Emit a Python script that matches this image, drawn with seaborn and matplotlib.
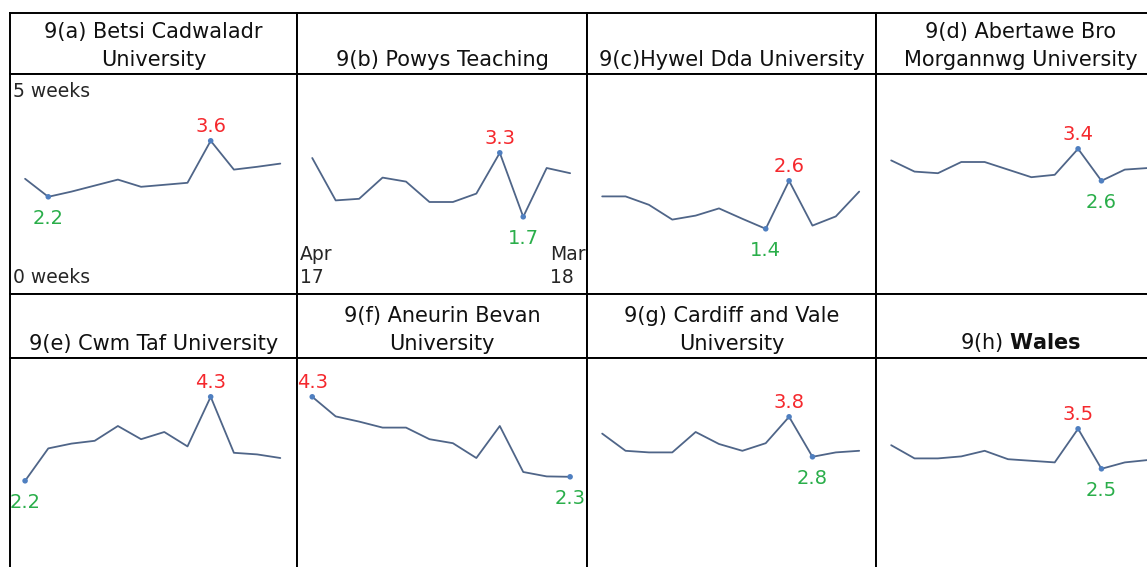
import numpy as np
import pandas as pd
import matplotlib
matplotlib.use('Agg')
import matplotlib.pyplot as plt
import seaborn as sns

# months Apr 17 .. Mar 18
months = ['Apr 17', 'May 17', 'Jun 17', 'Jul 17', 'Aug 17', 'Sep 17',
          'Oct 17', 'Nov 17', 'Dec 17', 'Jan 18', 'Feb 18', 'Mar 18']

titles = ['9(a) Betsi Cadwaladr\nUniversity', '9(b) Powys Teaching',
          '9(c)Hywel Dda University', '9(d) Abertawe Bro\nMorgannwg University',
          '9(e) Cwm Taf University', '9(f) Aneurin Bevan\nUniversity',
          '9(g) Cardiff and Vale\nUniversity', r'9(h) $\mathbf{Wales}$']

# weeks
betsi = [2.65, 2.2, 2.33, 2.48, 2.63, 2.45, 2.5, 2.55, 3.6, 2.88, 2.95, 3.03]
powys = [3.17, 2.11, 2.15, 2.68, 2.58, 2.07, 2.07, 2.28, 3.3, 1.7, 2.92, 2.79]
hywel = [2.21, 2.21, 2.0, 1.63, 1.73, 1.91, 1.65, 1.4, 2.6, 1.48, 1.71, 2.33]
abm = [3.11, 2.83, 2.79, 3.07, 3.07, 2.88, 2.69, 2.75, 3.4, 2.6, 2.88, 2.92]
cwm = [2.2, 3.01, 3.13, 3.2, 3.57, 3.24, 3.42, 3.06, 4.3, 2.9, 2.86, 2.77]
aneurin = [4.3, 3.81, 3.68, 3.53, 3.53, 3.24, 3.14, 2.77, 3.57, 2.42, 2.31, 2.3]
cardiff = [3.38, 2.95, 2.91, 2.91, 3.42, 3.12, 2.95, 3.14, 3.8, 2.8, 2.91, 2.95]
wales = [3.09, 2.76, 2.76, 2.81, 2.95, 2.74, 2.7, 2.66, 3.5, 2.5, 2.66, 2.72]

series = [betsi, powys, hywel, abm, cwm, aneurin, cardiff, wales]

sns.set_style('white')
plt.rcParams['font.family'] = ['DejaVu Sans']

W, H = 1147, 567
fig = plt.figure(figsize=(W / 100, H / 100), dpi=100)


def box(x0, y0, x1, y1):
    return [x0 / W, 1 - y1 / H, (x1 - x0) / W, (y1 - y0) / H]


col_edges = [10, 297, 587, 876, 1165]
rows = [(13, 74, 294), (294, 358, 578)]
line_col = '#4f6588'
dot_col = '#4f7fc0'
red = '#f5282d'
green = '#2aae4a'

for i, vals in enumerate(series):
    r, c = i // 4, i % 4
    top, mid, bot = rows[r]
    x0, x1 = col_edges[c], col_edges[c + 1]

    # title cell
    tax = fig.add_axes(box(x0, top, x1, mid))
    tax.set_xticks([])
    tax.set_yticks([])
    for s in tax.spines.values():
        s.set_linewidth(1.4)
        s.set_color('black')
    tax.text(0.5, 0.06, titles[i], ha='center', va='bottom', fontsize=15,
             linespacing=1.5, color='#111111', transform=tax.transAxes)

    # plot cell
    ax = fig.add_axes(box(x0, mid, x1, bot))
    df = pd.DataFrame({'idx': np.arange(len(months)), 'weeks': vals})
    sns.lineplot(data=df, x='idx', y='weeks', ax=ax, color=line_col, lw=1.3)
    imax, imin = int(np.argmax(vals)), int(np.argmin(vals))
    sns.scatterplot(x=[imax, imin], y=[vals[imax], vals[imin]], ax=ax,
                    color=dot_col, s=16, edgecolor='none', zorder=3)
    ax.annotate(f'{vals[imax]:.1f}', (imax, vals[imax]), xytext=(0, 5),
                textcoords='offset pixels', ha='center', va='bottom',
                color=red, fontsize=14)
    ax.annotate(f'{vals[imin]:.1f}', (imin, vals[imin]), xytext=(0, -12),
                textcoords='offset pixels', ha='center', va='top',
                color=green, fontsize=14)
    ax.set_xlim(-0.65, 11.72)
    ax.set_ylim(-0.23, 5.27)
    ax.set_xticks([])
    ax.set_yticks([])
    ax.set_xlabel('')
    ax.set_ylabel('')
    for s in ax.spines.values():
        s.set_linewidth(1.4)
        s.set_color('black')

    if i == 0:
        ax.text(0.012, 0.897, '5 weeks', ha='left', va='baseline',
                fontsize=13.5, transform=ax.transAxes)
        ax.text(0.012, 0.05, '0 weeks', ha='left', va='baseline',
                fontsize=13.5, transform=ax.transAxes)
    if i == 1:
        m0, y0 = months[0].split()
        m1, y1 = months[-1].split()
        ax.text(0.01, 0.155, m0, ha='left', va='baseline', fontsize=13.5,
                transform=ax.transAxes)
        ax.text(0.01, 0.05, y0, ha='left', va='baseline', fontsize=13.5,
                transform=ax.transAxes)
        ax.text(0.872, 0.155, m1, ha='left', va='baseline', fontsize=13.5,
                transform=ax.transAxes)
        ax.text(0.872, 0.05, y1, ha='left', va='baseline', fontsize=13.5,
                transform=ax.transAxes)

fig.savefig('out.png', dpi=100)
